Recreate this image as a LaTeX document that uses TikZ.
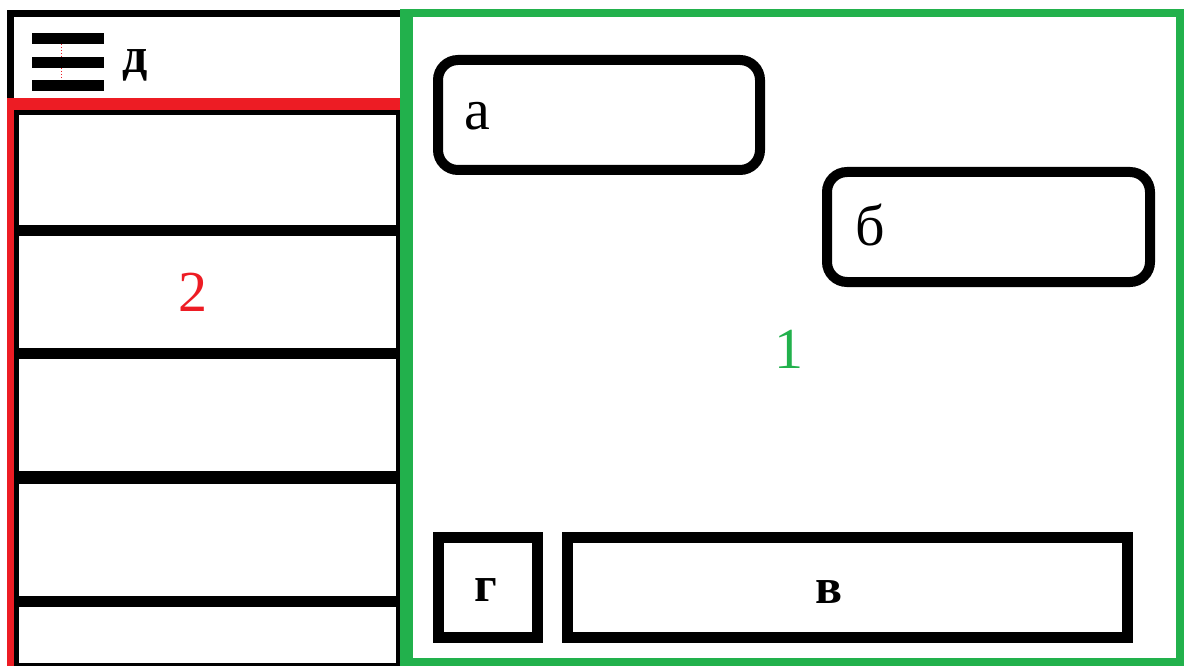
\documentclass[tikz,border=0pt]{standalone}
\usepackage{fontspec}
\setmainfont{Liberation Serif}
\definecolor{pred}{HTML}{ED1C24}
\definecolor{pgreen}{HTML}{22B14C}
\begin{document}
\begin{tikzpicture}[x=1pt,y=-1pt,
  roundbox/.style={draw=black,line width=10pt,rounded corners=20pt,inner sep=0pt},
  sqbox/.style={draw=black,line width=11pt,inner sep=0pt},
  lbl/.style={inner sep=0pt,anchor=base,font=\fontsize{58}{60}\selectfont},
  blbl/.style={inner sep=0pt,anchor=base,font=\fontsize{50}{52}\selectfont\bfseries},
  bar/.style={fill=black}]
\useasboundingbox (0,0) rectangle (1184,666);
\clip (0,0) rectangle (1184,666);
\fill[white] (0,0) rectangle (1184,666);
% header
\draw[line width=7pt] (10.5,102) -- (10.5,13.5) -- (404,13.5);
\fill[bar] (32,33) rectangle (104,44);
\fill[bar] (32,57) rectangle (104,68);
\fill[bar] (32,80) rectangle (104,91);
\draw[pred,line width=1pt,dotted] (61,44) -- (61,57);
\draw[pred,line width=1pt,dotted] (61,68) -- (61,80);
\node[blbl] (d) at (135,73) {д};
% red panel 2
\draw[pred,line width=7pt] (10.5,700) -- (10.5,104.5) -- (401,104.5) -- (401,700);
\fill[pred] (7,98) rectangle (402,110);
\draw[line width=5pt] (16.5,700) -- (16.5,112.5) -- (398,112.5) -- (398,700);
\draw[line width=11pt] (14,230.5) -- (400,230.5);
\draw[line width=11pt] (14,353) -- (400,353);
\draw[line width=13pt] (14,477) -- (400,477);
\draw[line width=11pt] (14,601) -- (400,601);
\draw[line width=4pt] (14,665) -- (400,665);
\node[lbl,text=pred] (two) at (193,311) {2};
% green panel 1
\fill[pgreen] (400,9) rectangle (412.5,666);
\draw[pgreen,line width=8pt] (406,13) rectangle (1180,662);
\node[lbl,text=pgreen] (one) at (789,368) {1};
\node[roundbox,minimum width=322pt,minimum height=110pt] (boxA) at (599,115) {};
\node[lbl] (labA) at (477,130) {а};
\node[roundbox,minimum width=323pt,minimum height=110pt] (boxB) at (988.5,227) {};
\node[lbl] (labB) at (870,245) {б};
\node[sqbox,minimum width=99pt,minimum height=100pt] (boxG) at (488,587.5) {};
\node[blbl] (labG) at (486,601) {г};
\node[sqbox,minimum width=560pt,minimum height=100pt] (boxV) at (847.5,587.5) {};
\node[blbl] (labV) at (829,603) {в};
\end{tikzpicture}
\end{document}
